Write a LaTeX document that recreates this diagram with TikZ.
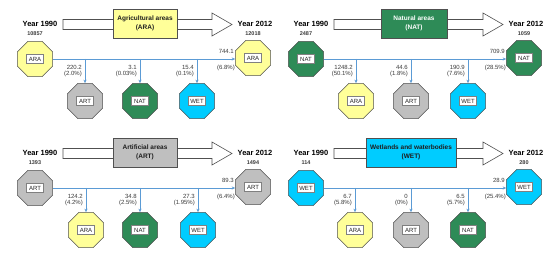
\documentclass[tikz,border=0pt]{standalone}
\usepackage{fontspec}
\setmainfont{Liberation Sans}
\usetikzlibrary{shapes.geometric,arrows.meta}
\definecolor{cARA}{RGB}{255,255,153}
\definecolor{cART}{RGB}{191,191,191}
\definecolor{cNAT}{RGB}{46,139,87}
\definecolor{cWET}{RGB}{0,204,255}
\definecolor{tARA}{RGB}{30,30,30}
\definecolor{tART}{RGB}{30,30,30}
\definecolor{tNAT}{RGB}{255,255,255}
\definecolor{tWET}{RGB}{30,30,30}
\definecolor{linkblue}{RGB}{91,155,213}
\definecolor{edgegray}{RGB}{80,80,80}
\definecolor{numgray}{RGB}{60,60,60}
\tikzset{
  yeartxt/.style={font=\bfseries\fontsize{7.5}{9}\selectfont, inner sep=0pt},
  valtxt/.style={font=\bfseries\fontsize{5.5}{6.5}\selectfont, inner sep=0pt, text=numgray},
  numtxt/.style={font=\fontsize{6}{7}\selectfont, inner sep=0pt, text=numgray},
  bigarrow/.style={draw=edgegray, fill=white, line width=0.6pt},
  titlebox/.style={draw=edgegray, line width=0.6pt, minimum height=29pt, align=center,
    font=\bfseries\fontsize{6.5}{9}\selectfont, inner sep=1pt},
  oct/.style={regular polygon, regular polygon sides=8, minimum size=38pt, inner sep=0pt,
    draw=edgegray, line width=0.5pt},
  tag/.style={draw=gray, fill=white, line width=0.3pt, font=\fontsize{6}{7}\selectfont,
    minimum width=17pt, minimum height=9pt, inner sep=1pt, text=black!85},
  conn/.style={draw=linkblue, line width=0.6pt, -{Stealth[length=3.5pt,width=3pt]}},
  link/.style={draw=linkblue, line width=0.6pt}
}
% #1 code, #2 box text, #3 box centre x, #4 box width, #5 initial, #6 final,
% #7 right value, #8 right percentage, #9 lower list code/value/pct/x
\newcommand\drawpanel[9]{%
  \node[yeartxt] (y1) at (40,24) {Year 1990};
  \node[yeartxt] (y2) at (255,24) {Year 2012};
  \draw[bigarrow] (63,19.5) -- (212,19.5) -- (212,13) -- (232,24.5) -- (212,36)
     -- (212,29.5) -- (63,29.5) -- cycle;
  \node[titlebox, fill=c#1, text=t#1, minimum width=#4pt] (box) at (#3,23.5) {#2};
  \node[oct, fill=c#1] (start) at (35,59) {};
  \node[tag] (starttag) at (start) {#1};
  \node[valtxt] (v0) at (35,34) {#5};
  \node[oct, fill=c#1] (end) at (253,58) {};
  \node[tag] (endtag) at (end) {#1};
  \node[valtxt] (v1) at (253,34) {#6};
  \draw[conn] (start.east) -- (end.west |- start.east);
  \node[numtxt, anchor=east] (rv) at (234,51) {#7};
  \node[numtxt, anchor=east] (rp) at (235,68) {#8};
  \foreach \code/\val/\pct/\xx [count=\i] in {#9} {
    \node[oct, fill=c\code] (low\i) at (\xx,101) {};
    \node[tag] (lowtag\i) at (low\i) {\code};
    \draw[conn] (low\i.north |- start.east) -- (low\i.north);
    \node[numtxt, anchor=east] (lv\i) at ({\xx-3},67) {\val};
    \node[numtxt, anchor=east] (lp\i) at ({\xx-3},74) {\pct};
  }%
}
\begin{document}
\begin{tikzpicture}[x=1pt,y=-1pt]
\useasboundingbox[fill=white] (0,0) rectangle (550,253);
\begin{scope}[name prefix=p1-]
  \drawpanel{ARA}{Agricultural areas\\(ARA)}{145}{64}{10857}{12018}{744.1}{(6.8\%)}
    {ART/220.2/(2.0\%)/85, NAT/3.1/(0.03\%)/140, WET/15.4/(0.1\%)/197}
\end{scope}
\begin{scope}[shift={(271,0)}, name prefix=p2-]
  \drawpanel{NAT}{Natural areas\\(NAT)}{143}{66}{2487}{1059}{709.9}{(28.5\%)}
    {ARA/1248.2/(50.1\%)/85, ART/44.6/(1.8\%)/140, WET/190.9/(7.6\%)/197}
\end{scope}
\begin{scope}[shift={(0,129)}, name prefix=p3-]
  \drawpanel{ART}{Artificial areas\\(ART)}{145}{64}{1393}{1494}{89.3}{(6.4\%)}
    {ARA/124.2/(4.2\%)/86, NAT/34.8/(2.5\%)/140, WET/27.3/(1.95\%)/198}
\end{scope}
\begin{scope}[shift={(271,129)}, name prefix=p4-]
  \drawpanel{WET}{Wetlands and waterbodies\\(WET)}{140}{90}{114}{280}{28.9}{(25.4\%)}
    {ARA/6.7/(5.8\%)/84, ART/0/(0\%)/140, NAT/6.5/(5.7\%)/197}
\end{scope}
\end{tikzpicture}
\end{document}
